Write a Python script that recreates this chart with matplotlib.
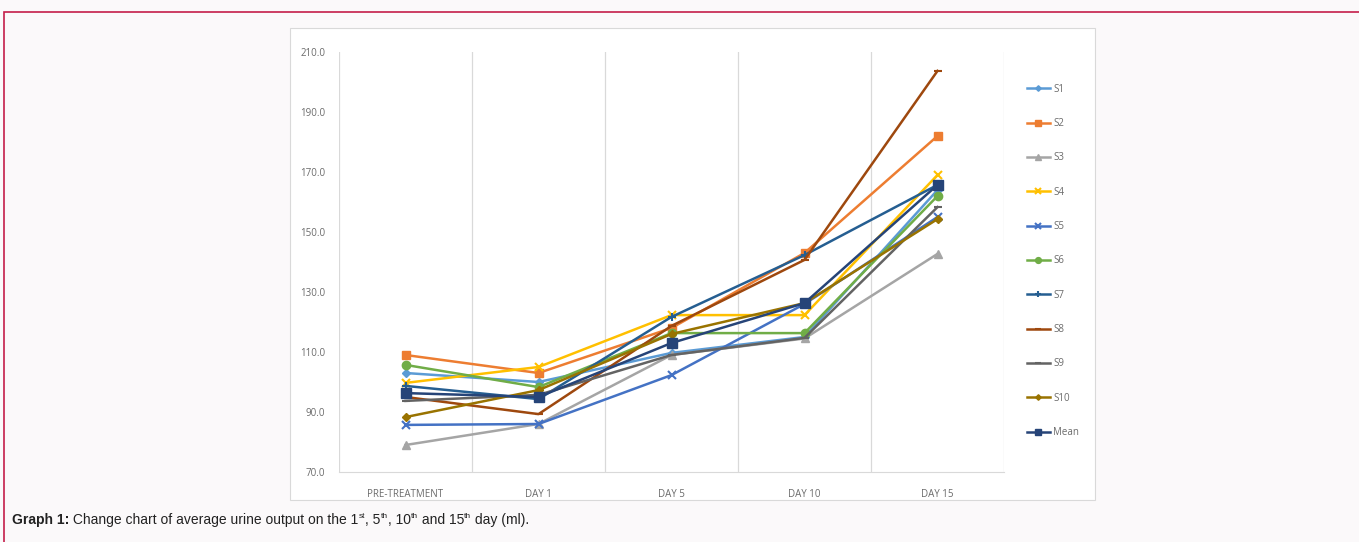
import matplotlib
matplotlib.use("Agg")
import matplotlib.pyplot as plt
from matplotlib.patches import Rectangle

categories = ["PRE-TREATMENT", "DAY 1", "DAY 5", "DAY 10", "DAY 15"]
S1 = [103.0, 100.0, 109.7, 115.0, 164.0]
S2 = [109.0, 103.0, 118.0, 143.0, 182.0]
S3 = [79.0, 86.0, 109.0, 114.5, 142.7]
S4 = [99.7, 105.0, 122.3, 122.3, 169.0]
S5 = [85.7, 86.0, 102.3, 126.0, 155.0]
S6 = [105.7, 98.3, 116.3, 116.3, 162.0]
S7 = [98.7, 94.3, 121.7, 142.3, 165.7]
S8 = [95.0, 89.3, 118.7, 140.7, 203.7]
S9 = [93.7, 95.7, 109.0, 114.7, 158.3]
S10 = [88.3, 97.3, 116.0, 126.3, 154.3]
Mean = [96.3, 95.0, 113.0, 126.3, 165.7]
yticks = [70, 90, 110, 130, 150, 170, 190, 210]

series = [
    ("S1", S1, "#5B9BD5", "D", 4),
    ("S2", S2, "#ED7D31", "s", 6),
    ("S3", S3, "#A5A5A5", "^", 6),
    ("S4", S4, "#FFC000", "x", 6),
    ("S5", S5, "#4472C4", "x", 6),
    ("S6", S6, "#70AD47", "o", 6),
    ("S7", S7, "#255E91", "+", 6),
    ("S8", S8, "#9E480E", "_", 6),
    ("S9", S9, "#636363", "_", 6),
    ("S10", S10, "#997300", "D", 4),
    ("Mean", Mean, "#264478", "s", 7),
]

W, H = 1359, 542
fig = plt.figure(figsize=(W / 100, H / 100), dpi=100)
fig.patch.set_facecolor("#fbf9fa")

# red frame
fig.add_artist(Rectangle((4 / W, -0.05), 1.1, (H - 12) / H + 0.05, transform=fig.transFigure,
                         fill=False, edgecolor="#c41e4a", linewidth=1.2, zorder=-5))
# white chart box
fig.add_artist(Rectangle((290 / W, (H - 500) / H), (1095 - 290) / W, (500 - 28) / H,
                         transform=fig.transFigure, facecolor="white", edgecolor="#d9d9d9",
                         linewidth=0.8, zorder=-4))

left, right, top, bottom = 339, 1004, 52, 472
ax = fig.add_axes([left / W, (H - bottom) / H, (right - left) / W, (bottom - top) / H])
ax.set_zorder(1)
ax.set_facecolor("white")
x = list(range(len(categories)))
for name, vals, col, mk, ms in series:
    mew = 1.5 if mk in ("x", "+", "_") else 1
    ax.plot(x, vals, color=col, marker=mk, markersize=ms, linewidth=1.8,
            markeredgewidth=mew, label=name)

ax.set_xlim(-0.5, len(categories) - 0.5)
ax.set_ylim(70, 210)
ax.set_yticks(yticks)
ax.set_yticklabels([f"{v:.1f}" for v in yticks], fontsize=7, color="#6b6b6b", family="Open Sans")
ax.set_xticks(x)
ax.set_xticklabels(categories, fontsize=7, color="#6b6b6b", family="Open Sans")
for xb in [i - 0.5 for i in range(len(categories) + 1)]:
    ax.axvline(xb, color="#d9d9d9", linewidth=0.9, zorder=0)
for s in ["top", "right", "left"]:
    ax.spines[s].set_visible(False)
ax.spines["bottom"].set_color("#d9d9d9")
ax.tick_params(axis="both", length=0, pad=10)
ax.tick_params(axis="x", pad=12)

leg = ax.legend(loc="upper left", bbox_to_anchor=(1018 / W, (H - 75) / H),
                bbox_transform=fig.transFigure, frameon=False, markerscale=0.7,
                labelspacing=2.4, handlelength=2.4, handletextpad=0.3,
                prop={"family": "Open Sans", "size": 7})
for t in leg.get_texts():
    t.set_color("#6b6b6b")

# caption with superscripts
fig.canvas.draw()
r = fig.canvas.get_renderer()
pieces = [
    ("Graph 1:", "bold", False),
    (" Change chart of average urine output on the 1", "normal", False),
    ("st", "normal", True),
    (", 5", "normal", False),
    ("th", "normal", True),
    (", 10", "normal", False),
    ("th", "normal", True),
    (" and 15", "normal", False),
    ("th", "normal", True),
    (" day (ml).", "normal", False),
]
cx = 12
base_y = H - 524
for txt, wt, sup in pieces:
    size = 6 if sup else 10
    yy = base_y + (6 if sup else 0)
    t = fig.text(cx / W, yy / H, txt, fontsize=size, weight=wt, family="Liberation Sans",
                 color="#222222", ha="left", va="baseline")
    bb = t.get_window_extent(renderer=r)
    cx += bb.width

fig.savefig("out.png", dpi=100, facecolor=fig.get_facecolor())
